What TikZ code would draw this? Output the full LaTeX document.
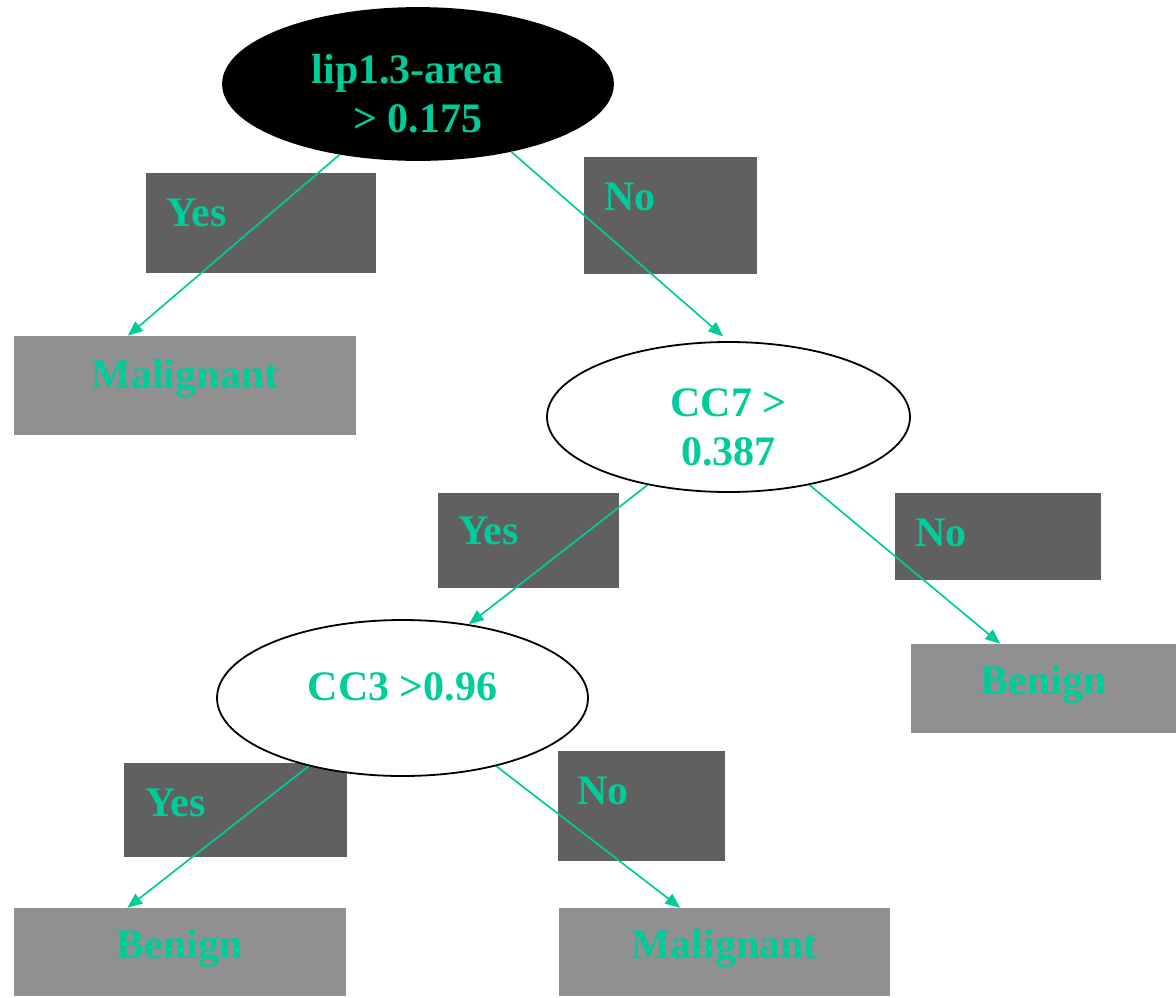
\documentclass[tikz,border=0pt]{standalone}
\usepackage{fontspec}
\setmainfont{Liberation Serif}
\usetikzlibrary{shapes.geometric,arrows.meta}
\definecolor{leafgreen}{HTML}{00CC99}
\definecolor{tagfill}{HTML}{606060}
\definecolor{leaffill}{HTML}{909090}
\newcommand{\toplift}{\rule{0pt}{48pt}}
\tikzset{
  treetext/.style={font=\fontsize{42}{49}\selectfont\bfseries, text=leafgreen},
  cond/.style={treetext, ellipse, draw=black, line width=1.8pt, fill=white, inner sep=0pt, align=center},
  leaf/.style={treetext, rectangle, fill=leaffill, inner sep=0pt, text height=30pt, text depth=18pt},
  tagbox/.style={rectangle, fill=tagfill, inner sep=0pt},
  tag/.style={treetext, anchor=base west, inner sep=0pt},
  branch/.style={draw=leafgreen, line width=1.7pt, -{Triangle[length=15pt,width=12pt]}}
}
\begin{document}
\begin{tikzpicture}[x=1pt,y=-1pt]
\useasboundingbox (0,0) rectangle (1176,997);
\node[tagbox, minimum width=230, minimum height=100] (yesA) at (261,223) {};
\node[tagbox, minimum width=173, minimum height=117] (noA) at (670.5,215.5) {};
\node[tagbox, minimum width=181, minimum height=95] (yesB) at (528.5,540.5) {};
\node[tagbox, minimum width=206, minimum height=87] (noB) at (998,536.5) {};
\node[tagbox, minimum width=223, minimum height=94] (yesC) at (235.5,810) {};
\node[tagbox, minimum width=167, minimum height=110] (noC) at (641.5,806) {};
\node[tag] (yesAt) at (166,226) {Yes};
\node[tag] (noAt) at (604,210) {No};
\node[tag] (yesBt) at (458,544) {Yes};
\node[tag] (noBt) at (915,546) {No};
\node[tag] (yesCt) at (145,816) {Yes};
\node[tag] (noCt) at (577,804) {No};
\node[cond, fill=black, minimum width=390, minimum height=152] (root) at (418,84) {\toplift lip1.3-area\kern21pt\\> 0.175};
\node[cond, minimum width=363, minimum height=150] (cc7) at (728.5,417) {\toplift CC7 >\\0.387};
\node[cond, minimum width=371, minimum height=156, text height=29pt, text depth=25pt] (cc3) at (402.5,698) {CC3 >0.96};
\node[leaf, minimum width=342, minimum height=99, text depth=24pt] (malA) at (185,385.5) {Malignant};
\node[leaf, minimum width=265, minimum height=89] (benA) at (1043.5,688.5) {Benign};
\node[leaf, minimum width=332, minimum height=88] (benB) at (180,952) {Benign};
\node[leaf, minimum width=331, minimum height=88] (malB) at (724.5,952) {Malignant};
\draw[branch] (root.222) -- (malA.139);
\draw[branch, shorten >=7pt] (root.324) -- (cc7.north);
\draw[branch] (cc7.220) -- (cc3.48);
\draw[branch] (cc7.320) -- (benA.134);
\draw[branch] (cc3.216) -- (benB.140);
\draw[branch] (cc3.324) -- (malB.135);
\end{tikzpicture}
\end{document}
